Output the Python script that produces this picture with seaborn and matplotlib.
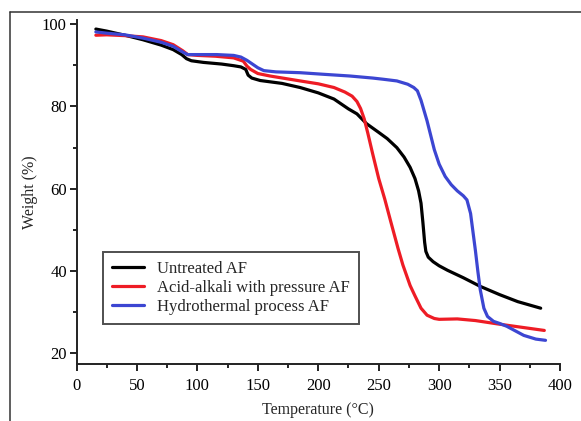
import numpy as np
import pandas as pd
import matplotlib
matplotlib.use('Agg')
from matplotlib import pyplot as plt
from matplotlib.lines import Line2D
from matplotlib.ticker import MultipleLocator
import seaborn as sns

# TGA curves
untreated_t = [16, 25, 40, 55, 70, 80, 87, 91, 95, 105, 120, 130, 136, 140, 142, 145, 152, 170, 185, 200,
               213, 225, 232, 240, 250, 257, 265, 271, 276, 280, 283, 285, 286.5, 288, 289, 291, 295, 300,
               307, 320, 334, 350, 365, 384]
untreated_w = [98.8, 98.3, 97.3, 96.2, 94.9, 93.8, 92.6, 91.6, 91.1, 90.7, 90.3, 89.9, 89.6, 89.0, 87.6, 86.9,
               86.3, 85.6, 84.6, 83.3, 81.8, 79.4, 78.2, 75.8, 73.7, 72.2, 70.0, 67.7, 65.2, 62.5, 59.5, 56.5,
               52.0, 47.0, 44.8, 43.4, 42.3, 41.3, 40.2, 38.4, 36.3, 34.3, 32.6, 31.0]

acid_t = [16, 25, 40, 55, 70, 80, 88, 92, 100, 115, 130, 138, 141, 144, 150, 160, 185, 200, 213, 222, 228,
          232, 235, 238, 241, 245, 250, 255, 260, 266, 270, 276, 280, 285, 290, 296, 300, 315, 330, 348, 365, 387]
acid_w = [97.3, 97.4, 97.2, 96.9, 96.0, 95.0, 93.5, 92.6, 92.4, 92.2, 91.8, 91.0, 89.8, 89.0, 88.0, 87.4, 86.2,
          85.5, 84.6, 83.5, 82.5, 81.2, 79.5, 77.0, 73.5, 68.5, 62.5, 57.5, 52.0, 45.5, 41.5, 36.5, 34.0, 31.0,
          29.3, 28.5, 28.3, 28.4, 28.0, 27.2, 26.5, 25.6]

hydro_t = [16, 25, 40, 55, 70, 80, 88, 92, 100, 116, 130, 136, 141, 146, 150, 155, 165, 185, 205, 226, 245,
           254, 265, 274, 279, 282, 285, 288, 290, 293, 296, 300, 305, 310, 315, 320, 323, 326, 328, 330, 332,
           334, 337, 340, 345, 350, 356, 363, 370, 380, 388]
hydro_w = [98.1, 97.8, 97.4, 96.6, 95.6, 94.6, 93.2, 92.6, 92.6, 92.6, 92.4, 92.0, 91.2, 90.2, 89.4, 88.7, 88.4,
           88.2, 87.8, 87.4, 86.9, 86.6, 86.2, 85.4, 84.6, 83.8, 81.5, 78.5, 76.5, 73.0, 69.5, 66.0, 63.0, 61.0,
           59.5, 58.3, 57.3, 54.0, 49.5, 45.0, 40.0, 35.5, 31.0, 29.0, 27.8, 27.3, 26.6, 25.5, 24.4, 23.5, 23.2]

labels = ['Untreated AF', 'Acid-alkali with pressure AF', 'Hydrothermal process AF']
colors = ['#000000', '#ee1c25', '#3c46d2']

df = pd.concat([
    pd.DataFrame({'Temperature': untreated_t, 'Weight': untreated_w, 'Sample': labels[0]}),
    pd.DataFrame({'Temperature': acid_t, 'Weight': acid_w, 'Sample': labels[1]}),
    pd.DataFrame({'Temperature': hydro_t, 'Weight': hydro_w, 'Sample': labels[2]}),
], ignore_index=True)

sns.set_style("ticks")
plt.rcParams['font.family'] = ['Liberation Serif', 'DejaVu Serif']

fig = plt.figure(figsize=(5.81, 4.21), dpi=100)
ax = fig.add_axes([0.1317, 0.1354, 0.8322, 0.8171])

sns.lineplot(data=df, x='Temperature', y='Weight', hue='Sample', hue_order=labels,
             palette=dict(zip(labels, colors)), estimator=None, sort=False, lw=2.3, ax=ax)

ax.set_xlim(0, 400)
ax.set_ylim(17.45, 101)
ax.xaxis.set_major_locator(MultipleLocator(50))
ax.xaxis.set_minor_locator(MultipleLocator(25))
ax.yaxis.set_major_locator(MultipleLocator(20))
ax.yaxis.set_minor_locator(MultipleLocator(10))
ax.tick_params(which='major', direction='out', length=5, width=1.4, labelsize=12, colors='#222222',
               labelcolor='black', pad=2)
ax.tick_params(axis='x', which='major', pad=5)
ax.tick_params(which='minor', direction='out', length=3, width=1.4, colors='#222222')
sns.despine(ax=ax)
for s in ['left', 'bottom']:
    ax.spines[s].set_linewidth(1.4)
    ax.spines[s].set_color('#222222')

ax.set_xlabel('Temperature (°C)', fontsize=11.5, labelpad=6)
ax.set_ylabel('Weight (%)', fontsize=11.5, labelpad=3)

leg = ax.legend(loc='upper left', bbox_to_anchor=(0.0548, 0.3256), fontsize=12, frameon=True,
                fancybox=False, edgecolor='#222222', borderaxespad=0, handlelength=1.9,
                handletextpad=0.8, labelspacing=0.18, borderpad=0.55)
leg.get_frame().set_linewidth(1.4)
for h in leg.get_lines():
    h.set_linewidth(2.3)

# outer frame lines of the original figure panel
fig.add_artist(Line2D([9.5 / 581, 9.5 / 581], [0, 1 - 12 / 421], transform=fig.transFigure,
                      color='#333333', lw=1.1))
fig.add_artist(Line2D([9.5 / 581, 1], [1 - 12 / 421, 1 - 12 / 421], transform=fig.transFigure,
                      color='#333333', lw=1.1))

fig.savefig('out.png', dpi=100)
